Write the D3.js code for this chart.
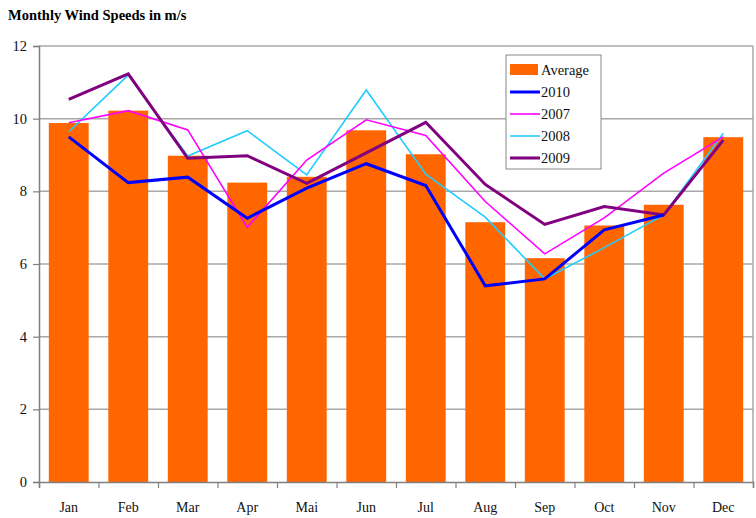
<!DOCTYPE html>
<html><head><meta charset="utf-8">
<script src="https://cdn.jsdelivr.net/npm/d3@7"></script>
<style>body{margin:0;background:#fff}svg{display:block}</style>
</head><body><svg id="c" width="756" height="518" font-family="'Liberation Serif', 'Times New Roman', serif"></svg>
<script>
const months = ["Jan","Feb","Mar","Apr","Mai","Jun","Jul","Aug","Sep","Oct","Nov","Dec"];
const average = [9.88,10.22,8.98,8.24,8.40,9.68,9.02,7.15,6.16,7.06,7.63,9.49];
const y2010 = [9.50,8.24,8.39,7.26,8.09,8.76,8.16,5.40,5.59,6.94,7.35,null];
const y2007 = [9.89,10.22,9.69,7.01,8.86,9.97,9.54,7.72,6.28,7.27,8.50,9.50];
const y2008 = [9.64,11.20,8.97,9.67,8.45,10.79,8.47,7.29,5.59,6.45,7.35,9.60];
const y2009 = [10.53,11.23,8.91,8.98,8.22,9.06,9.90,8.19,7.09,7.58,7.35,9.41];
const yTicks = [0,2,4,6,8,10,12];

const FONT = "'Liberation Serif', 'Times New Roman', serif";
const svg = d3.select("#c");
const L=39, R=753, T=46, B=482;
const x = d3.scaleBand().domain(months).range([L,R]).paddingInner(0.33).paddingOuter(0.165);
const xc = m => x(m) + x.bandwidth()/2;
const y = d3.scaleLinear().domain([0,12]).range([B,T]);

svg.append("text").attr("x",8).attr("y",20).attr("font-family",FONT).attr("font-size",14.5).attr("font-weight","bold").text("Monthly Wind Speeds in m/s");

// gridlines
svg.append("g").selectAll("line").data(yTicks.filter(d=>d>0)).join("line")
  .attr("x1",L).attr("x2",R).attr("y1",d=>y(d)).attr("y2",d=>y(d))
  .attr("stroke","#a8a8a8").attr("stroke-width",1.5);
svg.append("line").attr("x1",R).attr("x2",R).attr("y1",T).attr("y2",B).attr("stroke","#a8a8a8").attr("stroke-width",1.5);

// bars
svg.append("g").selectAll("rect").data(average).join("rect")
  .attr("x",(d,i)=>x(months[i])).attr("width",x.bandwidth())
  .attr("y",d=>y(d)).attr("height",d=>B-y(d)).attr("fill","#FF6600");

// axes
const yAxis = svg.append("g").attr("transform",`translate(${L},0)`)
  .call(d3.axisLeft(y).tickValues(yTicks).tickSize(6).tickPadding(6).tickFormat(d3.format("d")));
const xAxis = svg.append("g").attr("transform",`translate(0,${B})`)
  .call(d3.axisBottom(d3.scalePoint().domain(d3.range(13)).range([L,R])).tickValues(d3.range(13)).tickSize(6).tickFormat(""));
[yAxis,xAxis].forEach(a=>{a.attr("font-family",FONT);
  a.select(".domain").attr("stroke","#808080").attr("stroke-width",1.5);
  a.selectAll(".tick line").attr("stroke","#808080").attr("stroke-width",1.2);});
yAxis.selectAll("text").attr("font-size",14.5).attr("font-family",FONT).attr("fill","#111");
svg.append("g").selectAll("text").data(months).join("text")
  .attr("x",d=>xc(d)).attr("y",512).attr("text-anchor","middle").attr("font-family",FONT).attr("font-size",14).attr("fill","#111").text(d=>d);

// lines
const series = [
  {name:"2010", data:y2010, color:"#0000FF", w:3},
  {name:"2007", data:y2007, color:"#FF00FF", w:1.6},
  {name:"2008", data:y2008, color:"#22CCFF", w:1.6},
  {name:"2009", data:y2009, color:"#800080", w:3}
];
const line = d3.line().defined(d=>d.v!=null).x(d=>xc(d.m)).y(d=>y(d.v));
const drawOrder = [series[2], series[1], series[3], series[0]];
drawOrder.forEach(s=>{
  svg.append("path").datum(s.data.map((v,i)=>({m:months[i],v})))
    .attr("d",line).attr("fill","none").attr("stroke",s.color).attr("stroke-width",s.w)
    .attr("stroke-linejoin","miter");
});

// legend
const lg = svg.append("g");
lg.append("rect").attr("x",506).attr("y",55).attr("width",95).attr("height",114)
  .attr("fill","#fff").attr("stroke","#888").attr("stroke-width",1);
lg.append("rect").attr("x",510).attr("y",64).attr("width",28).attr("height",11).attr("fill","#FF6600");
lg.append("text").attr("x",541).attr("y",75).attr("font-family",FONT).attr("font-size",14.5).attr("fill","#111").text("Average");
series.forEach((s,i)=>{
  const yy = 92 + i*22;
  lg.append("line").attr("x1",510).attr("x2",540).attr("y1",yy).attr("y2",yy).attr("stroke",s.color).attr("stroke-width",s.w);
  lg.append("text").attr("x",541).attr("y",yy+5).attr("font-family",FONT).attr("font-size",14.5).attr("fill","#111").text(s.name);
});
</script></body></html>
